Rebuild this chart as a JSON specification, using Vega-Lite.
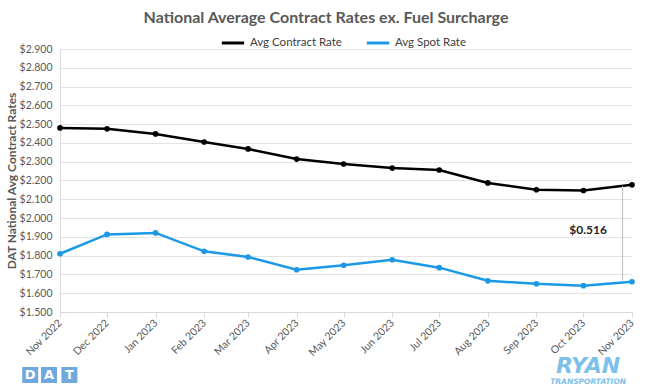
{
  "$schema": "https://vega.github.io/schema/vega-lite/v6.json",
  "width": 572,
  "height": 263,
  "autosize": {"type": "none"},
  "padding": {"left": 60, "top": 49, "right": 21, "bottom": 80},
  "background": "white",
  "config": {
    "font": "Lato",
    "view": {"stroke": null}
  },
  "title": {
    "text": "National Average Contract Rates ex. Fuel Surcharge",
    "fontSize": 16,
    "fontWeight": "bold",
    "color": "#595959",
    "anchor": "middle",
    "dx": -20,
    "offset": 4
  },
  "resolve": {"axis": {"x": "independent", "y": "independent"}},
  "datasets": {
    "rates": [
      {"month": "2022/11/01", "series": "Avg Contract Rate", "rate": 2.480},
      {"month": "2022/12/01", "series": "Avg Contract Rate", "rate": 2.475},
      {"month": "2023/01/01", "series": "Avg Contract Rate", "rate": 2.448},
      {"month": "2023/02/01", "series": "Avg Contract Rate", "rate": 2.405},
      {"month": "2023/03/01", "series": "Avg Contract Rate", "rate": 2.368},
      {"month": "2023/04/01", "series": "Avg Contract Rate", "rate": 2.314},
      {"month": "2023/05/01", "series": "Avg Contract Rate", "rate": 2.288},
      {"month": "2023/06/01", "series": "Avg Contract Rate", "rate": 2.266},
      {"month": "2023/07/01", "series": "Avg Contract Rate", "rate": 2.256},
      {"month": "2023/08/01", "series": "Avg Contract Rate", "rate": 2.187},
      {"month": "2023/09/01", "series": "Avg Contract Rate", "rate": 2.151},
      {"month": "2023/10/01", "series": "Avg Contract Rate", "rate": 2.147},
      {"month": "2023/11/01", "series": "Avg Contract Rate", "rate": 2.177},
      {"month": "2022/11/01", "series": "Avg Spot Rate", "rate": 1.810},
      {"month": "2022/12/01", "series": "Avg Spot Rate", "rate": 1.913},
      {"month": "2023/01/01", "series": "Avg Spot Rate", "rate": 1.921},
      {"month": "2023/02/01", "series": "Avg Spot Rate", "rate": 1.823},
      {"month": "2023/03/01", "series": "Avg Spot Rate", "rate": 1.793},
      {"month": "2023/04/01", "series": "Avg Spot Rate", "rate": 1.725},
      {"month": "2023/05/01", "series": "Avg Spot Rate", "rate": 1.749},
      {"month": "2023/06/01", "series": "Avg Spot Rate", "rate": 1.778},
      {"month": "2023/07/01", "series": "Avg Spot Rate", "rate": 1.736},
      {"month": "2023/08/01", "series": "Avg Spot Rate", "rate": 1.666},
      {"month": "2023/09/01", "series": "Avg Spot Rate", "rate": 1.650},
      {"month": "2023/10/01", "series": "Avg Spot Rate", "rate": 1.640},
      {"month": "2023/11/01", "series": "Avg Spot Rate", "rate": 1.661}
    ],
    "one": [{"note": "$0.516", "d": "D", "a": "A", "t": "T", "ryan": "RYAN", "sub": "TRANSPORTATION"}]
  },
  "layer": [
    {
      "data": {"name": "rates"},
      "mark": {"type": "line", "strokeWidth": 2.5, "point": {"filled": true, "size": 32}},
      "encoding": {
        "x": {
          "field": "month",
          "type": "temporal",
          "scale": {
            "domain": [{"year": 2022, "month": 11, "date": 1}, {"year": 2023, "month": 11, "date": 1}],
            "nice": false,
            "padding": 0
          },
          "axis": {
            "title": null,
            "format": "%b %Y",
            "tickCount": {"interval": "month", "step": 1},
            "labelAngle": -45,
            "labelAlign": "right",
            "labelBaseline": "middle",
            "labelFontSize": 10.5,
            "labelColor": "#595959",
            "labelPadding": 4,
            "grid": false,
            "domainColor": "#d9d9d9",
            "tickColor": "#d9d9d9",
            "tickSize": 5,
            "labelOverlap": false,
            "labelFlush": false
          }
        },
        "y": {
          "field": "rate",
          "type": "quantitative",
          "scale": {"domain": [1.5, 2.9], "nice": false, "zero": false},
          "axis": {
            "title": "DAT National Avg Contract Rates",
            "titleFontSize": 12,
            "titleFontWeight": "bold",
            "titleColor": "#595959",
            "titlePadding": 1,
            "format": "$.3f",
            "values": [1.5, 1.6, 1.7, 1.8, 1.9, 2.0, 2.1, 2.2, 2.3, 2.4, 2.5, 2.6, 2.7, 2.8, 2.9],
            "labelOverlap": false,
            "labelFontSize": 10.5,
            "labelColor": "#595959",
            "labelPadding": 8,
            "ticks": false,
            "domainColor": "#d9d9d9",
            "gridColor": "#e3e3e3",
            "gridWidth": 1
          }
        },
        "color": {
          "field": "series",
          "type": "nominal",
          "scale": {"domain": ["Avg Contract Rate", "Avg Spot Rate"], "range": ["#000000", "#1B98E6"]},
          "legend": {
            "title": null,
            "orient": "none",
            "direction": "horizontal",
            "legendX": 160,
            "legendY": -19,
            "symbolType": "stroke",
            "symbolSize": 500,
            "symbolStrokeWidth": 3,
            "labelFontSize": 11.5,
            "labelColor": "#404040",
            "columnPadding": 18
          }
        }
      }
    },
    {
      "data": {"name": "one"},
      "mark": {"type": "rule", "color": "#bfbfbf", "strokeWidth": 1},
      "encoding": {
        "x": {"datum": {"year": 2023, "month": 10, "date": 26}, "type": "temporal", "axis": null},
        "y": {"datum": 1.668, "type": "quantitative", "axis": null},
        "y2": {"datum": 2.170}
      }
    },
    {
      "data": {"name": "one"},
      "mark": {"type": "text", "align": "right", "baseline": "middle", "fontWeight": "bold", "fontSize": 12, "color": "#262626"},
      "encoding": {
        "x": {"datum": {"year": 2023, "month": 10, "date": 16}, "type": "temporal", "axis": null},
        "y": {"datum": 1.937, "type": "quantitative", "axis": null},
        "text": {"field": "note"}
      }
    },
    {
      "data": {"name": "one"},
      "mark": {"type": "square", "size": 256, "filled": true, "color": "#6EA8DC", "opacity": 1, "clip": false},
      "encoding": {
        "x": {"datum": {"year": 2022, "month": 10, "date": 13}, "type": "temporal", "axis": null},
        "y": {"datum": 1.1647, "type": "quantitative", "axis": null}
      }
    },
    {
      "data": {"name": "one"},
      "mark": {"type": "square", "size": 256, "filled": true, "color": "#6EA8DC", "opacity": 1, "clip": false},
      "encoding": {
        "x": {"datum": {"year": 2022, "month": 10, "date": 25}, "type": "temporal", "axis": null},
        "y": {"datum": 1.1647, "type": "quantitative", "axis": null}
      }
    },
    {
      "data": {"name": "one"},
      "mark": {"type": "square", "size": 256, "filled": true, "color": "#6EA8DC", "opacity": 1, "clip": false},
      "encoding": {
        "x": {"datum": {"year": 2022, "month": 11, "date": 7}, "type": "temporal", "axis": null},
        "y": {"datum": 1.1647, "type": "quantitative", "axis": null}
      }
    },
    {
      "data": {"name": "one"},
      "mark": {"type": "text", "align": "center", "baseline": "middle", "fontWeight": "bold", "fontSize": 13, "color": "white", "font": "DejaVu Sans"},
      "encoding": {
        "x": {"datum": {"year": 2022, "month": 10, "date": 13}, "type": "temporal", "axis": null},
        "y": {"datum": 1.1647, "type": "quantitative", "axis": null},
        "text": {"field": "d"}
      }
    },
    {
      "data": {"name": "one"},
      "mark": {"type": "text", "align": "center", "baseline": "middle", "fontWeight": "bold", "fontSize": 13, "color": "white", "font": "DejaVu Sans"},
      "encoding": {
        "x": {"datum": {"year": 2022, "month": 10, "date": 25}, "type": "temporal", "axis": null},
        "y": {"datum": 1.1647, "type": "quantitative", "axis": null},
        "text": {"field": "a"}
      }
    },
    {
      "data": {"name": "one"},
      "mark": {"type": "text", "align": "center", "baseline": "middle", "fontWeight": "bold", "fontSize": 13, "color": "white", "font": "DejaVu Sans"},
      "encoding": {
        "x": {"datum": {"year": 2022, "month": 11, "date": 7}, "type": "temporal", "axis": null},
        "y": {"datum": 1.1647, "type": "quantitative", "axis": null},
        "text": {"field": "t"}
      }
    },
    {
      "data": {"name": "one"},
      "mark": {"type": "text", "align": "center", "baseline": "middle", "fontWeight": "bold", "fontStyle": "italic", "fontSize": 22, "color": "#7DC1EA", "font": "DejaVu Sans"},
      "encoding": {
        "x": {"datum": {"year": 2023, "month": 10, "date": 4}, "type": "temporal", "axis": null},
        "y": {"datum": 1.214, "type": "quantitative", "axis": null},
        "text": {"field": "ryan"}
      }
    },
    {
      "data": {"name": "one"},
      "mark": {"type": "text", "align": "center", "baseline": "middle", "fontWeight": "bold", "fontStyle": "italic", "fontSize": 7.5, "color": "#7DC1EA", "font": "DejaVu Sans"},
      "encoding": {
        "x": {"datum": {"year": 2023, "month": 10, "date": 4}, "type": "temporal", "axis": null},
        "y": {"datum": 1.128, "type": "quantitative", "axis": null},
        "text": {"field": "sub"}
      }
    }
  ]
}
